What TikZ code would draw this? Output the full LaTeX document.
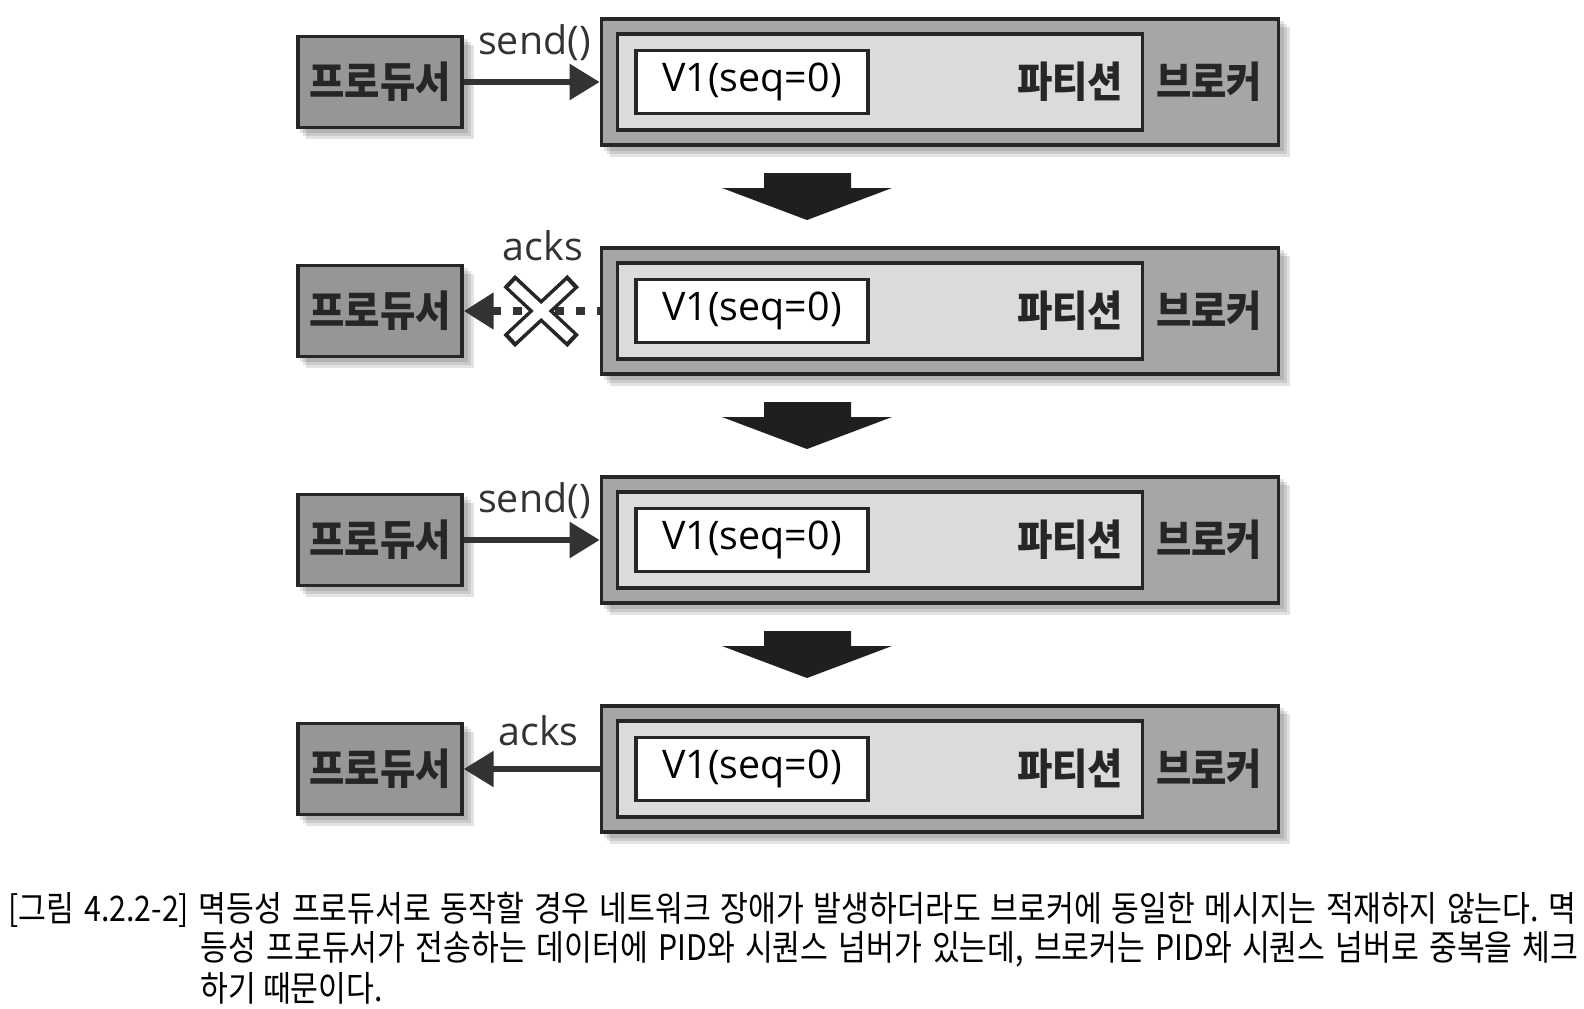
\documentclass[tikz,border=0pt]{standalone}
\usepackage{fontspec}
\setmainfont{Open Sans}
\newfontfamily\kofont[FakeStretch=0.86]{Noto Sans CJK KR}
\newfontfamily\kowide[FakeStretch=0.91]{Noto Sans CJK KR}
\usetikzlibrary{arrows.meta,backgrounds}
\frenchspacing

\tikzset{
  box/.style={draw=black!85, line width=1pt, inner sep=0pt},
  producer/.style={box, fill=black!41, minimum width=1.64cm, minimum height=0.91cm,
    font=\kowide\bfseries\fontsize{12}{14}\selectfont, text=black!85},
  broker/.style={box, fill=black!35, minimum width=6.77cm, minimum height=1.26cm},
  partition/.style={box, fill=black!14, minimum width=5.25cm, minimum height=0.96cm},
  msg/.style={box, fill=white, minimum width=2.32cm, minimum height=0.63cm, font=\fontsize{11.2}{13}\selectfont},
  kolabel/.style={font=\kowide\bfseries\fontsize{12}{14}\selectfont, text=black!85},
  conn/.style={line width=1.5pt, draw=black!80},
  connlbl/.style={font=\fontsize{11.2}{13}\selectfont, text=black!80, inner sep=0pt},
  shade/.style={fill=black, opacity=0.11},
  caption/.style={font=\kofont\fontsize{10}{12}\selectfont, inner sep=0pt, anchor=west}
}

\begin{document}
\begin{tikzpicture}[x=0.01cm, y=-0.01cm]
  \useasboundingbox (0,0) rectangle (1584,1008);
  % four steps, one per row
  \foreach \i in {0,...,3}{
    \pgfmathsetmacro{\cy}{82+229*\i}
    \node[broker] (broker\i) at (940,\cy) {};
    \node[partition] (part\i) at (880,\cy) {};
    \node[msg] (msg\i) at (752,\cy) {V1(seq=0)};
    \node[kolabel] (partlbl\i) at (1070,\cy) {파티션};
    \node[kolabel] (brokerlbl\i) at (1209,\cy) {브로커};
    \node[producer] (prod\i) at (380,\cy) {프로듀서};
    % soft shadows
    \begin{pgfonlayer}{background}
      \foreach \d in {4,7,10}{
        \fill[shade] ([shift={(\d,\d)}]broker\i.north west) rectangle ([shift={(\d,\d)}]broker\i.south east);
        \fill[shade] ([shift={(\d,\d)}]prod\i.north west) rectangle ([shift={(\d,\d)}]prod\i.south east);
      }
    \end{pgfonlayer}
  }
  % big arrows between the rows
  \foreach \t in {173,402,631}
    \fill[black!88] (764,\t) -- (851,\t) -- (851,\t+15) -- (892,\t+15) -- (807,\t+47)
      -- (722,\t+15) -- (764,\t+15) -- cycle;
  % send / acks
  \draw[conn, -{Triangle[length=8.5pt, width=10pt]}] (prod0.east) -- (broker0.west)
    node[connlbl, pos=0.52, yshift=0.39cm] {send()};
  \draw[conn, line width=2.2pt, dash pattern=on 2.6pt off 3.4pt, {Triangle[length=8.5pt, width=10pt]}-]
    (prod1.east) -- coordinate[pos=0.57] (fail) (broker1.west);
  \draw[black!85, line width=4.8pt] ([shift={(-32,-30)}]fail) -- ([shift={(32,30)}]fail)
    ([shift={(32,-30)}]fail) -- ([shift={(-32,30)}]fail);
  \draw[white, line width=2.8pt] ([shift={(-29,-27)}]fail) -- ([shift={(29,27)}]fail)
    ([shift={(29,-27)}]fail) -- ([shift={(-29,27)}]fail);
  \node[connlbl] (ackslbl1) at (543,246) {acks};
  \draw[conn, -{Triangle[length=8.5pt, width=10pt]}] (prod2.east) -- (broker2.west)
    node[connlbl, pos=0.52, yshift=0.39cm] {send()};
  \draw[conn, {Triangle[length=8.5pt, width=10pt]}-] (prod3.east) -- (broker3.west)
    node[connlbl, pos=0.55, yshift=0.38cm] {acks};
  % caption
  \node[caption] (cap1) at (8,910) {\makebox[15.67cm][s]{[그림 4.2.2-2] 멱등성 프로듀서로 동작할 경우 네트워크 장애가 발생하더라도 브로커에 동일한 메시지는 적재하지 않는다. 멱}};
  \node[caption] (cap2) at (200,949) {\makebox[13.77cm][s]{등성 프로듀서가 전송하는 데이터에 PID와 시퀀스 넘버가 있는데, 브로커는 PID와 시퀀스 넘버로 중복을 체크}};
  \node[caption] (cap3) at (200,988) {하기 때문이다.};
\end{tikzpicture}
\end{document}
